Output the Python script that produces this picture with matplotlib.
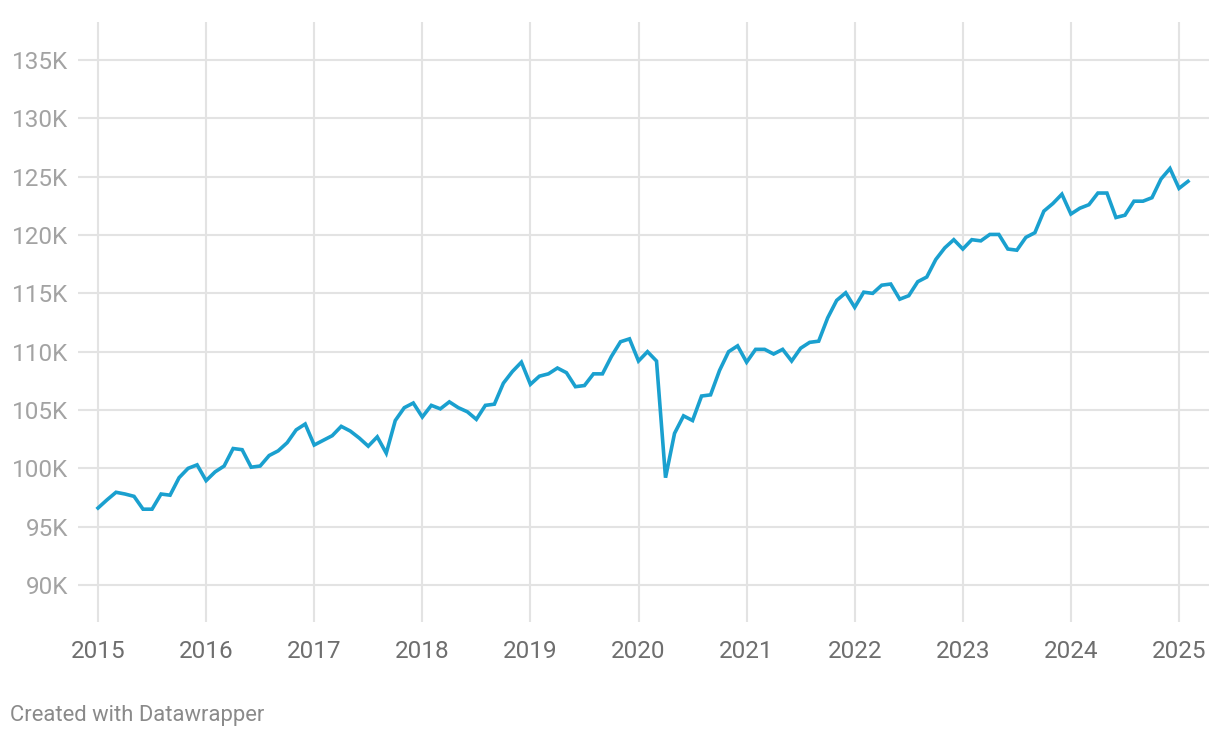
import matplotlib.pyplot as plt
import numpy as np

plt.rcParams['font.family'] = ['Roboto', 'DejaVu Sans']

# monthly values in thousands, Jan 2015 - Feb 2025
START_YEAR = 2015
values = [
    96.6, 97.3, 97.95, 97.8, 97.6, 96.5, 96.5, 97.8, 97.7, 99.2, 100.0, 100.3,      # 2015
    98.95, 99.7, 100.2, 101.7, 101.6, 100.1, 100.2, 101.1, 101.5, 102.2, 103.3, 103.8,  # 2016
    102.0, 102.4, 102.8, 103.6, 103.2, 102.6, 101.9, 102.7, 101.3, 104.1, 105.2, 105.6,  # 2017
    104.4, 105.4, 105.1, 105.7, 105.2, 104.85, 104.2, 105.4, 105.5, 107.3, 108.3, 109.1,  # 2018
    107.2, 107.9, 108.1, 108.6, 108.2, 107.0, 107.1, 108.1, 108.1, 109.6, 110.85, 111.1,  # 2019
    109.2, 110.0, 109.2, 99.2, 103.0, 104.5, 104.1, 106.2, 106.3, 108.4, 110.0, 110.5,  # 2020
    109.1, 110.2, 110.2, 109.8, 110.2, 109.2, 110.3, 110.8, 110.9, 112.9, 114.4, 115.05,  # 2021
    113.8, 115.1, 115.0, 115.7, 115.8, 114.5, 114.8, 116.0, 116.4, 117.9, 118.9, 119.6,  # 2022
    118.8, 119.6, 119.5, 120.05, 120.05, 118.8, 118.7, 119.8, 120.2, 122.05, 122.7, 123.5,  # 2023
    121.8, 122.3, 122.6, 123.6, 123.6, 121.5, 121.7, 122.9, 122.9, 123.2, 124.8, 125.7,  # 2024
    124.0, 124.6,  # 2025
]
years = list(range(2015, 2026))
y_ticks = [90, 95, 100, 105, 110, 115, 120, 125, 130, 135]

x = START_YEAR + np.arange(len(values)) / 12

fig = plt.figure(figsize=(12.2, 7.38), dpi=100)
ax = fig.add_axes([78 / 1220, 1 - 622 / 738, (1209 - 78) / 1220, (622 - 22) / 738])

ax.plot(x, values, color='#1aa0cf', lw=2.6, solid_joinstyle='miter', zorder=3)

ax.set_xlim(2014.815, 2025.2775)
ax.set_ylim(86.83, 138.26)

ax.set_yticks(y_ticks)
ax.set_yticklabels([f'{v}K' for v in y_ticks])
ax.set_xticks(years)
ax.set_xticklabels([str(y) for y in years])

ax.grid(True, color='#e3e3e3', lw=1.5)
ax.set_axisbelow(True)
for s in ax.spines.values():
    s.set_visible(False)
ax.tick_params(axis='both', length=0)
ax.tick_params(axis='y', pad=7, labelsize=17.5, labelcolor='#a3a3a3')
ax.tick_params(axis='x', pad=13, labelsize=17.5, labelcolor='#6e6e6e')

fig.text(10 / 1220, 1 - 716 / 738, 'Created with Datawrapper', fontsize=15.8,
         color='#8a8a8a', ha='left', va='center')

fig.savefig('out.png', dpi=100)
